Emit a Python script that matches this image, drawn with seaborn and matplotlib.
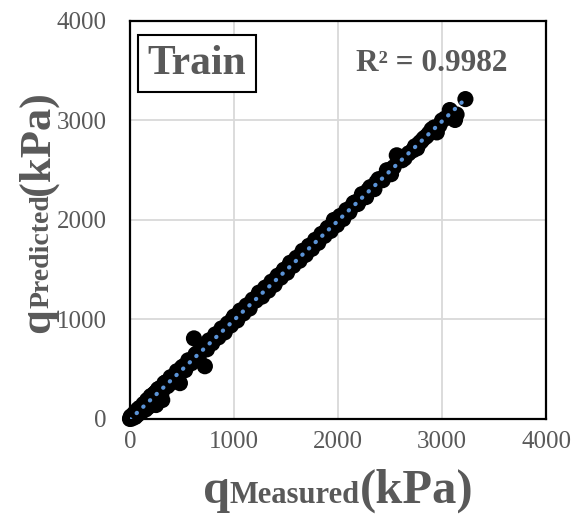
import matplotlib
matplotlib.use("Agg")
import matplotlib.pyplot as plt
from matplotlib.patches import Rectangle
import numpy as np
import pandas as pd
import seaborn as sns

# measured vs predicted bearing pressure (kPa)
measured = [0, 8, 20, 35, 50, 60, 75, 90, 110, 130, 150, 165, 180, 200, 215,
            240, 250, 270, 300, 310, 330, 360, 390, 420, 450, 480, 500, 530,
            560, 590, 615, 630, 660, 690, 720, 740, 760, 790, 820, 850, 880,
            910, 940, 970, 1000, 1030, 1060, 1090, 1120, 1150, 1180, 1210,
            1240, 1270, 1300, 1330, 1360, 1390, 1420, 1450, 1480, 1510, 1540,
            1570, 1600, 1630, 1660, 1690, 1720, 1750, 1780, 1810, 1840, 1870,
            1900, 1930, 1960, 1990, 2020, 2050, 2080, 2110, 2150, 2190, 2230,
            2270, 2310, 2350, 2390, 2430, 2470, 2510, 2565, 2615, 2640, 2720,
            2760, 2800, 2850, 2900, 2950, 3000, 3075, 3125, 3140, 3225,
            5, 25, 40, 55, 70, 85, 100, 120, 140, 160, 175, 190, 205, 225,
            235, 255, 280, 290, 320, 345, 375, 400, 435, 460, 490, 515, 545,
            575, 605, 645, 675, 705, 730, 770, 805, 835, 865, 895, 925, 955,
            985, 1015, 1045, 1075, 1105, 1135, 1165, 1195, 1225, 1255, 1285,
            1315, 1345, 1375, 1405, 1435, 1465, 1495, 1525, 1555, 1585, 1615,
            1645, 1675, 1705, 1735, 1765, 1795, 1825, 1855, 1885, 1915, 1945,
            1975, 2005, 2035, 2065, 2095, 2130, 2170, 2210, 2250, 2290, 2330,
            2370, 2410, 2450, 2490, 2535, 2680, 2740, 2780, 2825, 2875, 2925,
            2975, 3030, 3090]
predicted = [0, 25, 5, 40, 20, 70, 45, 110, 70, 150, 95, 190, 130, 230, 160,
             260, 140, 300, 240, 190, 360, 330, 420, 380, 480, 360, 520, 490,
             590, 560, 810, 650, 620, 720, 530, 700, 790, 760, 850, 820, 910,
             870, 960, 940, 1030, 990, 1090, 1060, 1140, 1110, 1200, 1190,
             1270, 1230, 1320, 1290, 1380, 1350, 1440, 1420, 1500, 1470, 1570,
             1540, 1620, 1590, 1690, 1650, 1740, 1710, 1800, 1770, 1860, 1840,
             1920, 1890, 2000, 1950, 2040, 2010, 2100, 2080, 2170, 2160, 2260,
             2230, 2330, 2310, 2410, 2400, 2500, 2460, 2650, 2600, 2620, 2700,
             2720, 2790, 2840, 2910, 2880, 3000, 3105, 3005, 3060, 3215,
             12, 18, 55, 35, 90, 60, 85, 125, 105, 170, 120, 210, 175, 245,
             200, 275, 250, 310, 300, 370, 350, 410, 440, 450, 500, 530, 540,
             580, 600, 660, 680, 700, 745, 775, 800, 840, 860, 900, 930, 950,
             1000, 1010, 1050, 1080, 1100, 1140, 1170, 1190, 1230, 1260, 1280,
             1320, 1340, 1370, 1410, 1430, 1470, 1490, 1530, 1550, 1590, 1610,
             1650, 1670, 1700, 1740, 1760, 1800, 1820, 1850, 1890, 1910, 1950,
             1980, 2000, 2040, 2060, 2090, 2130, 2180, 2200, 2240, 2300, 2320,
             2380, 2400, 2440, 2500, 2530, 2670, 2740, 2770, 2820, 2870, 2930,
             2950, 3020, 3070]

ticks = [0, 1000, 2000, 3000, 4000]
panel_label = "Train"
r2_label = "R² = 0.9982"
x_label = [("q", 35), ("Measured", 22), ("(kPa)", 35)]
y_label = [("q", 32), ("Predicted", 20), ("(kPa)", 32)]

GRAY = "#595959"

df = pd.DataFrame({"measured": measured, "predicted": predicted})

sns.set_style("white")
plt.rcParams["font.family"] = ["Liberation Serif", "DejaVu Serif"]

fig = plt.figure(figsize=(5.77, 5.23), dpi=100)
ax = fig.add_axes([0.2253, 0.1989, 0.7210, 0.7610])

sns.scatterplot(data=df, x="measured", y="predicted", color="black", s=135,
                edgecolor="none", linewidth=0, ax=ax, clip_on=False, zorder=3)

# linear trendline (Excel style dotted)
slope, intercept = np.polyfit(df["measured"], df["predicted"], 1)
xs = np.array([df["measured"].min(), df["measured"].max()])
ax.plot(xs, slope * xs + intercept, color="#5b93d6", lw=3.0,
        linestyle=(0, (0.1, 2.1)), dash_capstyle="round", zorder=5)

ax.set_xlim(0, 4000)
ax.set_ylim(0, 4000)
ax.set_xticks(ticks)
ax.set_yticks(ticks)
ax.grid(True, color="#d9d9d9", lw=1.3)
ax.set_axisbelow(True)
ax.tick_params(axis="both", length=0, labelsize=18, labelcolor=GRAY)
ax.tick_params(axis="x", pad=9)
ax.tick_params(axis="y", pad=17)
for sp in ax.spines.values():
    sp.set_visible(True)
    sp.set_color("black")
    sp.set_linewidth(1.6)
ax.set_xlabel("")
ax.set_ylabel("")

# panel tag and R² annotation
ax.add_patch(Rectangle((0.019, 0.822), 0.284, 0.143, transform=ax.transAxes,
                       facecolor="white", edgecolor="black", lw=1.5, zorder=5))
ax.text(0.161, 0.892, panel_label, transform=ax.transAxes, ha="center",
        va="center", fontsize=30, fontweight="bold", color=GRAY, zorder=6)
ax.text(0.726, 0.892, r2_label, transform=ax.transAxes, ha="center",
        va="center", fontsize=22.5, fontweight="bold", color=GRAY, zorder=6)

# axis titles: large q, smaller name on the same baseline, large unit
renderer = fig.canvas.get_renderer()
W, H = fig.bbox.width, fig.bbox.height


def piece_widths(parts):
    out = []
    for s, size in parts:
        t = fig.text(0, 0, s, fontsize=size, fontweight="bold")
        out.append(t.get_window_extent(renderer).width)
        t.remove()
    return out


wx = piece_widths(x_label)
x0 = 338 - sum(wx) / 2
for (s, size), w in zip(x_label, wx):
    fig.text(x0 / W, 20 / H, s, fontsize=size, fontweight="bold", color=GRAY,
             ha="left", va="baseline")
    x0 += w

wy = piece_widths(y_label)
y0 = (523 - 212) - sum(wy) / 2
for (s, size), w in zip(y_label, wy):
    fig.text(49 / W, y0 / H, s, fontsize=size, fontweight="bold", color=GRAY,
             ha="left", va="baseline", rotation=90, rotation_mode="anchor")
    y0 += w

fig.savefig("out.png", dpi=100)
